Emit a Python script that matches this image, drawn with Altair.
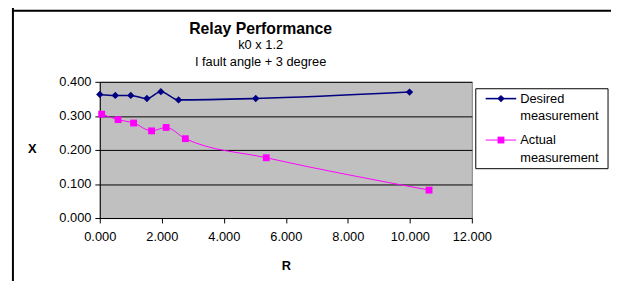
import altair as alt
import pandas as pd

# ---- data ----
desired_r = [0.00, 0.50, 1.00, 1.52, 1.97, 2.54, 5.03, 9.99]
desired_x = [0.363, 0.360, 0.360, 0.351, 0.371, 0.347, 0.351, 0.370]
actual_r = [0.06, 0.59, 1.09, 1.67, 2.14, 2.76, 5.37, 10.62]
actual_x = [0.305, 0.289, 0.279, 0.256, 0.266, 0.233, 0.177, 0.082]

series_names = ["Desired measurement", "Actual measurement"]
series_colors = ["#000080", "#FF00FF"]
x_ticks = [0, 2, 4, 6, 8, 10, 12]
y_ticks = [0.0, 0.1, 0.2, 0.3, 0.4]
title_lines = ["Relay Performance", "k0 x 1.2", "I fault angle + 3 degree"]

FONT = "Liberation Sans"

df_d = pd.DataFrame({"R": desired_r, "X": desired_x, "series": series_names[0]})
df_a = pd.DataFrame({"R": actual_r, "X": actual_x, "series": series_names[1]})

xs = alt.Scale(domain=[0, 12], nice=False)
ys = alt.Scale(domain=[0, 0.4], nice=False)

x_axis = alt.Axis(values=x_ticks, tickCount=len(x_ticks), format=".3f", grid=False,
                  title="R", titleFontWeight="bold", titleFontSize=13, titleFont=FONT,
                  titleY=48, titleBaseline="middle",
                  tickSize=5, labelPadding=8, labelFlush=False, labelOverlap=False)
y_axis = alt.Axis(values=y_ticks, tickCount=len(y_ticks), format=".3f", grid=True,
                  gridColor="#000000", gridWidth=1, title="X", titleAngle=0,
                  titleFontWeight="bold", titleFontSize=13, titleFont=FONT,
                  titleX=-69, titleY=68, titleAlign="center", titleBaseline="middle",
                  tickSize=5, labelPadding=4, labelOverlap=False, labelFlush=False)

enc_x = alt.X("R:Q", scale=xs, axis=x_axis)
enc_y = alt.Y("X:Q", scale=ys, axis=y_axis)

line_d = alt.Chart(df_d).mark_line(color=series_colors[0], strokeWidth=1.6,
                                   interpolate="monotone").encode(x=enc_x, y=enc_y)
pts_d = alt.Chart(df_d).mark_point(shape="diamond", filled=True, size=55, opacity=1,
                                   color=series_colors[0]).encode(x="R:Q", y="X:Q")
line_a = alt.Chart(df_a).mark_line(color=series_colors[1], strokeWidth=1,
                                   interpolate="monotone").encode(x="R:Q", y="X:Q")
pts_a = alt.Chart(df_a).mark_point(shape="square", filled=True, size=48, opacity=1,
                                   color=series_colors[1]).encode(x="R:Q", y="X:Q")

one = pd.DataFrame({"k": [0]})

# ---- titles (text) ----
TX = 163
t1 = alt.Chart(one).mark_text(font=FONT, fontSize=16, fontWeight="bold", color="black",
                              align="center", baseline="middle").encode(
    x=alt.value(TX), y=alt.value(-53), text=alt.value(title_lines[0]))
t2 = alt.Chart(one).mark_text(font=FONT, fontSize=13, color="black",
                              align="center", baseline="middle").encode(
    x=alt.value(TX), y=alt.value(-37), text=alt.value(title_lines[1]))
t3 = alt.Chart(one).mark_text(font=FONT, fontSize=13, color="black",
                              align="center", baseline="middle").encode(
    x=alt.value(TX), y=alt.value(-20), text=alt.value(title_lines[2]))

# ---- manual legend ----
leg_box = alt.Chart(one).mark_rect(fill="white", stroke="black", strokeWidth=1).encode(
    x=alt.value(381), x2=alt.value(515), y=alt.value(7), y2=alt.value(88))
leg_l1 = alt.Chart(one).mark_rule(color=series_colors[0], strokeWidth=1.6).encode(
    x=alt.value(391), x2=alt.value(422), y=alt.value(17))
leg_p1 = alt.Chart(one).mark_point(shape="diamond", filled=True, size=55, opacity=1,
                                   color=series_colors[0]).encode(
    x=alt.value(406.5), y=alt.value(17))
leg_l2 = alt.Chart(one).mark_rule(color=series_colors[1], strokeWidth=1).encode(
    x=alt.value(391), x2=alt.value(422), y=alt.value(59))
leg_p2 = alt.Chart(one).mark_point(shape="square", filled=True, size=48, opacity=1,
                                   color=series_colors[1]).encode(
    x=alt.value(406.5), y=alt.value(59))
leg_t1 = alt.Chart(one).mark_text(font=FONT, fontSize=13, color="black", align="left",
                                  baseline="middle", lineHeight=18).encode(
    x=alt.value(426), y=alt.value(17), text=alt.value(series_names[0].split(" ")))
leg_t2 = alt.Chart(one).mark_text(font=FONT, fontSize=13, color="black", align="left",
                                  baseline="middle", lineHeight=18).encode(
    x=alt.value(426), y=alt.value(59), text=alt.value(series_names[1].split(" ")))

# ---- outer chart frame ----
frame_left = alt.Chart(one).mark_rule(color="black", strokeWidth=2).encode(
    x=alt.value(-88), y=alt.value(-80), y2=alt.value(220))
frame_top = alt.Chart(one).mark_rule(color="black", strokeWidth=2).encode(
    x=alt.value(-89), x2=alt.value(560), y=alt.value(-72))

chart = alt.layer(
    line_d, pts_d, line_a, pts_a,
    t1, t2, t3,
    leg_box, leg_l1, leg_p1, leg_l2, leg_p2, leg_t1, leg_t2,
    frame_left, frame_top,
).properties(
    width=377, height=138,
    autosize=alt.AutoSizeParams(type="none"),
    padding={"left": 93, "top": 73, "right": 141, "bottom": 62},
    background="white",
).configure_view(
    fill="#C0C0C0", stroke="#808080", strokeWidth=1
).configure_axis(
    labelFont=FONT, labelFontSize=13, labelColor="black",
    domainColor="black", tickColor="black", titleColor="black",
)

chart.save("out.html", embed_options={"renderer": "svg", "actions": False})
